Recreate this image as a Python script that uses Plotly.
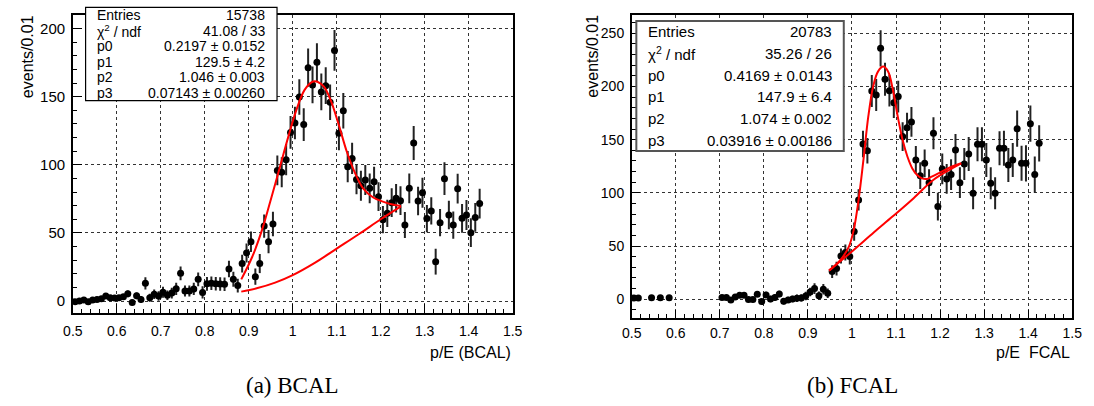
import plotly.graph_objects as go

W, H = 1094, 406

# ---------------- data ----------------
bin_lo = 0.5
bin_w = 0.01
n_bins = 93

# BCAL histogram (events / 0.01)
bcal_y = [-0.5, 0.0, 0.7, -0.5, 0.7, 1.2, 1.7, 3.7, 2.4, 2.2,
          2.4, 3.2, 5.3, -1.1, 3.8, 1.2, 13.0, 2.4, 4.9, 3.7,
          6.4, 4.2, 5.8, 9.0, 20.3, 7.4, 7.4, 8.9, 15.9, 6.3,
          12.6, 13.0, 12.7, 12.5, 12.3, 23.5, 15.9, 11.3, 27.5, 35.3,
          43.5, 17.9, 27.5, 55.0, 43.6, 56.5, 95.9, 94.5, 103.8, 123.8,
          130.7, 149.8, 129.5, 171.3, 158.6, 175.2, 153.5, 158.1, 145.9, 184.0,
          123.1, 139.7, 98.6, 104.7, 89.3, 84.7, 88.8, 82.7, 87.6, 76.6,
          59.7, 64.4, 72.2, 75.4, 73.7, 55.8, 82.7, 116.0, 73.4, 79.5,
          60.5, 66.1, 28.9, 57.5, 89.8, 63.1, 55.8, 82.5, 60.7, 63.1,
          50.2, 61.4, 71.5]
bcal_err = [1.5, 1.5, 1.5, 1.5, 1.5, 2, 2, 2, 2, 2,
            2, 2, 2.5, 2, 2.5, 2.5, 4.5, 3, 3.5, 3.5,
            4, 3.5, 4, 4.5, 5, 4, 4, 4.5, 5, 4.5,
            5, 5, 5, 5, 5, 6, 5.5, 5, 6.5, 7,
            7.5, 6, 7, 8.5, 8.5, 9, 11, 11, 11.5, 12,
            12, 13, 12, 14, 13.5, 14, 13.5, 13.5, 13, 15,
            12.5, 13, 11.5, 11.5, 11, 11, 11, 11, 11, 10.5,
            10, 10, 10.5, 10.5, 10.5, 9.5, 11, 12.5, 10.5, 11,
            10, 10, 9.5, 10, 12, 10.5, 10, 11, 10.5, 11,
            10.5, 10.5, 11]

# FCAL histogram (None = empty bin, not drawn)
fcal_y = [1.2, 1.2, None, None, 1.5, None, 1.5, None, 1.5, None,
          None, None, None, None, None, None, None, None, None, None,
          1.6, 1.6, -0.6, 2.2, 3.8, 3.8, -0.3, -0.3, 4.7, -2.2,
          4.1, 0.3, 1.6, 5.0, -1.9, -0.6, 0.3, 0.9, 1.3, 3.1,
          6.9, 10.0, 3.4, 9.4, 5.6, 26.0, 28.8, 40.7, 43.9, 40.1,
          63.6, 93.4, 146.0, 139.7, 195.8, 192.0, 235.9, 206.8, 196.1, 184.8,
          190.5, 152.9, 161.3, 166.7, 131.0, 116.2, 127.8, 109.6, 156.0, 87.1,
          122.5, 113.1, 117.2, 140.4, 109.6, 127.2, 136.6, 99.6, 145.7, 145.7,
          131.0, 109.0, 99.6, 141.9, 141.9, 126.3, 131.0, 160.4, 127.8, 127.8,
          165.1, 117.2, 146.6]
fcal_err = [1.5, 1.5, 0, 0, 1.5, 0, 1.5, 0, 1.5, 0,
            0, 0, 0, 0, 0, 0, 0, 0, 0, 0,
            2, 2, 2, 2, 2.5, 2.5, 2.5, 2.5, 2.5, 2.5,
            3, 3, 3, 3, 3, 3, 3, 3.5, 3.5, 4,
            4, 5, 4, 5, 4.5, 6, 6.5, 7, 7.5, 7.5,
            8.5, 10, 12.5, 12, 15, 15, 17, 15.5, 15, 14.5,
            15, 13.5, 14, 14, 13, 12.5, 13, 12.5, 15, 13,
            14.5, 14, 14.5, 15, 14.5, 15, 16, 15, 16, 16,
            16, 15, 15, 16, 16.5, 16, 16, 17, 16.5, 17,
            17, 17, 17]

# fit curves
bcal_fit_x = [0.883, 0.908, 0.930, 0.952, 0.971, 0.990, 1.008, 1.027, 1.045, 1.056,
              1.071, 1.086, 1.105, 1.123, 1.142, 1.160, 1.183, 1.205, 1.227, 1.246]
bcal_fit_y = [15.9, 32.5, 52.0, 76.6, 98.6, 120.7, 140.0, 155.0, 161.0, 161.0,
              157.4, 147.6, 129.0, 109.6, 93.7, 82.7, 76.0, 73.0, 70.8, 69.7]
bcal_bg_x = [0.883, 0.92, 0.96, 1.0, 1.05, 1.10, 1.15, 1.20, 1.246]
bcal_bg_y = [6.9, 9.5, 13.5, 19.0, 28.0, 38.5, 49.0, 60.0, 69.5]

fcal_fit_x = [0.948, 0.974, 0.993, 1.004, 1.015, 1.026, 1.037, 1.048, 1.059, 1.071,
              1.082, 1.093, 1.104, 1.115, 1.126, 1.137, 1.148, 1.159, 1.170, 1.181,
              1.196, 1.218, 1.248]
fcal_fit_y = [26.9, 37.0, 49.5, 65.2, 93.4, 131.0, 171.6, 199.9, 214.0, 218.7,
              214.0, 196.7, 171.6, 149.7, 134.0, 123.0, 116.8, 113.7, 113.1, 115.2,
              118.4, 123.1, 127.8]
fcal_bg_x = [0.948, 1.0, 1.05, 1.092, 1.14, 1.181, 1.21, 1.248]
fcal_bg_y = [26.9, 45.0, 63.0, 77.7, 95.0, 111.0, 119.0, 127.8]

# stats boxes
bcal_stats = [("Entries", "15738"), ("χ<sup>2</sup> / ndf", "41.08 / 33"),
              ("p0", "0.2197 ± 0.0152"), ("p1", "129.5 ± 4.2"),
              ("p2", "1.046 ± 0.003"), ("p3", "0.07143 ± 0.00260")]
fcal_stats = [("Entries", "20783"), ("χ<sup>2</sup> / ndf", "35.26 / 26"),
              ("p0", "0.4169 ± 0.0143"), ("p1", "147.9 ± 6.4"),
              ("p2", "1.074 ± 0.002"), ("p3", "0.03916 ± 0.00186")]

x_ticks = [0.5, 0.6, 0.7, 0.8, 0.9, 1.0, 1.1, 1.2, 1.3, 1.4, 1.5]
x_tick_text = ["0.5", "0.6", "0.7", "0.8", "0.9", "1", "1.1", "1.2", "1.3", "1.4", "1.5"]

centers = [round(bin_lo + bin_w * (i + 0.5), 4) for i in range(n_bins)]

# ---------------- figure ----------------
def px(x):
    return x / W

def py(y):
    return 1 - y / H

fig = go.Figure()

def add_hist(xa, ya, yv, ev, fx, fy, bx, by):
    fig.add_trace(go.Scatter(
        x=centers, y=yv, xaxis=xa, yaxis=ya, mode="markers",
        marker=dict(color="black", size=7),
        error_y=dict(type="data", array=ev, visible=True, color="#222222",
                     thickness=2, width=0),
        showlegend=False, hoverinfo="x+y"))
    fig.add_trace(go.Scatter(x=bx, y=by, xaxis=xa, yaxis=ya, mode="lines",
                             line=dict(color="#ff0000", width=2, shape="spline"),
                             showlegend=False))
    fig.add_trace(go.Scatter(x=fx, y=fy, xaxis=xa, yaxis=ya, mode="lines",
                             line=dict(color="#ff0000", width=2, shape="spline"),
                             showlegend=False))

add_hist("x", "y", bcal_y, bcal_err, bcal_fit_x, bcal_fit_y, bcal_bg_x, bcal_bg_y)
add_hist("x2", "y2", fcal_y, fcal_err, fcal_fit_x, fcal_fit_y, fcal_bg_x, fcal_bg_y)

tickfont = dict(family="Liberation Sans, Arial, sans-serif", size=14, color="black")

common_x = dict(range=[0.5, 1.5], tickvals=x_ticks, ticktext=x_tick_text,
                ticks="inside", ticklen=9, tickwidth=1, tickcolor="black",
                minor=dict(ticks="inside", ticklen=4.5, dtick=0.02, tick0=0.5,
                           tickcolor="black", showgrid=False),
                showline=True, linecolor="black", linewidth=1.5, mirror=True,
                showgrid=True, gridcolor="#333333", griddash="dot", gridwidth=1,
                zeroline=False, tickfont=tickfont)
common_y = dict(ticks="inside", ticklen=9, tickwidth=1, tickcolor="black",
                tick0=0, dtick=50,
                minor=dict(ticks="inside", ticklen=4.5, dtick=10, tick0=0,
                           tickcolor="black", showgrid=False),
                showline=True, linecolor="black", linewidth=1.5, mirror=True,
                showgrid=True, gridcolor="#333333", griddash="dot", gridwidth=1,
                zeroline=False)

fig.update_layout(
    width=W, height=H, margin=dict(l=0, r=0, t=0, b=0),
    paper_bgcolor="white", plot_bgcolor="white",
    xaxis=dict(domain=[px(64), px(512)], anchor="y", ticklabelstandoff=4, **common_x),
    yaxis=dict(domain=[py(313), py(14.7)], anchor="x", range=[-8.8, 210.2],
               tickfont=dict(family="Liberation Sans, Arial, sans-serif", size=15, color="black"),
               ticklabelstandoff=3, **common_y),
    xaxis2=dict(domain=[px(633.3), px(1082)], anchor="y2", ticklabelstandoff=1, **common_x),
    yaxis2=dict(domain=[py(318.3), py(14.7)], anchor="x2", range=[-17.9, 267.5],
                tickfont=dict(family="Liberation Sans, Arial, sans-serif", size=14, color="black"),
                ticklabelstandoff=3, **common_y),
)

shapes = []
annots = []

def stats_box(x0, x1, y0, y1, rows, fsize, lcolor, lwidth):
    shapes.append(dict(type="rect", xref="paper", yref="paper",
                       x0=px(x0), x1=px(x1), y0=py(y1), y1=py(y0),
                       fillcolor="white", line=dict(color=lcolor, width=lwidth),
                       layer="above"))
    step = (y1 - y0) / len(rows)
    for k, (lab, val) in enumerate(rows):
        yc = y0 + step * (k + 0.5)
        f = dict(family="Liberation Sans, Arial, sans-serif", size=fsize, color="black")
        annots.append(dict(text=lab, x=px(x0 + 10), y=py(yc), xref="paper", yref="paper",
                           xanchor="left", yanchor="middle", showarrow=False, font=f))
        annots.append(dict(text=val, x=px(x1 - 10), y=py(yc), xref="paper", yref="paper",
                           xanchor="right", yanchor="middle", showarrow=False, font=f))

stats_box(77, 272, 7.3, 100.7, bcal_stats, 14, "black", 1.2)
stats_box(638, 849.3, 21, 151, fcal_stats, 15, "#555555", 2)

tf = dict(family="Liberation Sans, Arial, sans-serif", size=16, color="black")
annots.append(dict(text="events/0.01", x=px(18), y=py(13), xref="paper", yref="paper",
                   xanchor="center", yanchor="top", textangle=-90, showarrow=False, font=tf))
annots.append(dict(text="events/0.01", x=px(593), y=py(13), xref="paper", yref="paper",
                   xanchor="center", yanchor="top", textangle=-90, showarrow=False, font=tf))
annots.append(dict(text="p/E (BCAL)", x=px(512), y=py(352), xref="paper", yref="paper",
                   xanchor="right", yanchor="middle", showarrow=False, font=tf))
annots.append(dict(text="p/E  FCAL", x=px(1082), y=py(352), xref="paper", yref="paper",
                   xanchor="right", yanchor="middle", showarrow=False, font=tf))

cf = dict(family="Liberation Serif, DejaVu Serif, serif", size=23, color="black")
annots.append(dict(text="(a) BCAL", x=px(288), y=py(385), xref="paper", yref="paper",
                   xanchor="center", yanchor="middle", showarrow=False, font=cf))
annots.append(dict(text="(b) FCAL", x=px(858), y=py(385), xref="paper", yref="paper",
                   xanchor="center", yanchor="middle", showarrow=False, font=cf))

fig.update_layout(shapes=shapes, annotations=annots)

fig.write_html("out.html")
